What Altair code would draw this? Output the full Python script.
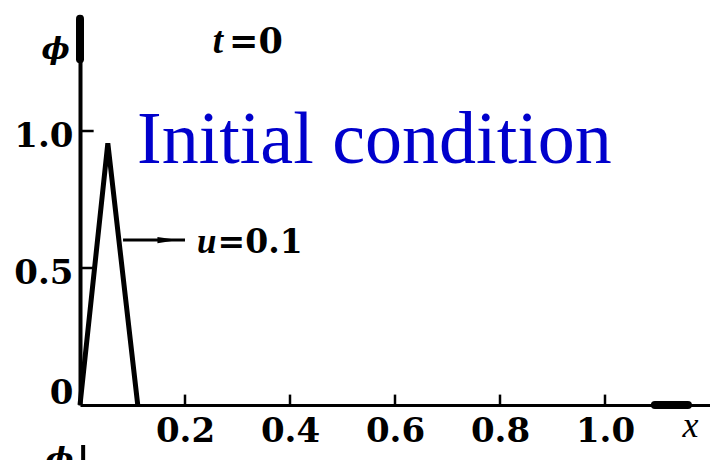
import altair as alt
import pandas as pd

# Triangular pulse phi(x) at t = 0
pulse_x = [0.0, 0.053, 0.11]
pulse_phi = [0.0, 0.955, 0.0]

# Axis ticks
x_tick_values = [0.2, 0.4, 0.6, 0.8, 1.0]
y_tick_values = [0.0, 0.5, 1.0]
y_tick_marks = [0.5, 1.0]

# Annotation text
main_note = "Initial condition"
time_note = ["t", "=0"]
speed_note = ["u", "=0.1"]
phi_symbol = "ϕ"

X_MAX = 1.2
Y_MAX = 1.4234
W, H = 630, 390
SERIF = "Liberation Serif"
NUM = "DejaVu Serif"

xs = alt.Scale(domain=[0, X_MAX], nice=False, zero=False)
ys = alt.Scale(domain=[0, Y_MAX], nice=False, zero=False)

x_axis = alt.Axis(
    values=x_tick_values, format=".1f", grid=False, ticks=False,
    domain=True, domainColor="black", domainWidth=3,
    labelFont=NUM, labelFontSize=34, labelFontWeight="bold", labelColor="black",
    labelPadding=9, labelFlush=False, labelOverlap=False,
    title="x", titleFont=SERIF, titleFontSize=36, titleFontStyle="italic",
    titleFontWeight="normal", titleColor="black",
    titleX=610, titleY=31, titleAlign="center", titleBaseline="alphabetic",
)
y_axis = alt.Axis(
    values=y_tick_values, grid=False, ticks=False,
    labelExpr="datum.value == 0 ? '0' : format(datum.value, '.1f')",
    domain=True, domainColor="black", domainWidth=4,
    labelFont=NUM, labelFontSize=34, labelFontWeight="bold", labelColor="black",
    labelPadding=7, labelBaseline="middle", labelFlush=False, labelOverlap=False,
    labelOffset={"condition": {"test": "datum.value == 0", "value": -12}, "value": 5},
    title=phi_symbol, titleFont=NUM, titleFontSize=30, titleFontStyle="italic",
    titleFontWeight="bold", titleColor="black", titleAngle=0,
    titleX=-25, titleY=34, titleAlign="center", titleBaseline="middle",
)


def xenc(field="x"):
    return alt.X(f"{field}:Q", scale=xs, axis=x_axis)


def yenc(field="y"):
    return alt.Y(f"{field}:Q", scale=ys, axis=y_axis)


pulse_df = pd.DataFrame({"x": pulse_x, "y": pulse_phi})
pulse = alt.Chart(pulse_df).mark_line(
    color="black", strokeWidth=5, strokeJoin="miter", strokeCap="butt"
).encode(x=xenc(), y=yenc())

# Short ticks pointing into the plot
tick_len_x = 0.038
tick_df = pd.DataFrame({
    "x": x_tick_values + [0.0] * len(y_tick_marks),
    "x2": x_tick_values + [0.026] * len(y_tick_marks),
    "y": [0.0] * len(x_tick_values) + y_tick_marks,
    "y2": [tick_len_x] * len(x_tick_values) + y_tick_marks,
})
ticks = alt.Chart(tick_df).mark_rule(color="black", strokeWidth=2.5).encode(
    x=xenc(), x2="x2:Q", y=yenc(), y2="y2:Q",
)

# Heavy arrow heads at the ends of both axes
heads_df = pd.DataFrame({
    "x": [1.095, 0.0], "x2": [1.158, 0.0],
    "y": [0.0, 1.262], "y2": [0.0, 1.41],
})
heads = alt.Chart(heads_df).mark_rule(
    color="black", strokeWidth=8, strokeCap="round"
).encode(x=xenc(), x2="x2:Q", y=yenc(), y2="y2:Q")

# Leader arrow pointing to the speed label
lead_df = pd.DataFrame({"x": [0.082], "x2": [0.2], "y": [0.602]})
lead = alt.Chart(lead_df).mark_rule(color="black", strokeWidth=3).encode(
    x=xenc(), x2="x2:Q", y=yenc(),
)
lhead_df = pd.DataFrame({"x": [0.167], "y": [0.602]})
lead_head = alt.Chart(lhead_df).mark_point(
    shape="M-1,-0.3L1,0L-1,0.3Z", filled=True, opacity=1, color="black", size=420
).encode(x=xenc(), y=yenc())


def label(text, x, y, size, style="normal", weight="normal", color="black", font=SERIF):
    df = pd.DataFrame({"x": [x], "y": [y], "t": [text]})
    return alt.Chart(df).mark_text(
        font=font, fontSize=size, fontStyle=style, fontWeight=weight, color=color,
        align="left", baseline="alphabetic",
    ).encode(x=xenc(), y=yenc(), text="t:N")


texts = [
    label(main_note, 0.1086, 0.883, 74, color="#0000CC"),
    label(time_note[0], 0.253, 1.285, 37, style="italic", weight="bold"),
    label(time_note[1], 0.284, 1.285, 35, weight="bold", font=NUM),
    label(speed_note[0], 0.223, 0.555, 35, style="italic", weight="bold"),
    label(speed_note[1], 0.262, 0.555, 33, weight="bold", font=NUM),
    # top of the next panel peeking in at the bottom edge
    label(phi_symbol, -0.066, -0.232, 30, style="italic", weight="bold", font=NUM),
]

next_axis_df = pd.DataFrame({"x": [0.006], "y": [-0.146], "y2": [-0.3]})
next_axis = alt.Chart(next_axis_df).mark_rule(color="black", strokeWidth=4).encode(
    x=xenc(), y=yenc(), y2="y2:Q",
)

chart = alt.layer(
    pulse, ticks, heads, lead, lead_head, next_axis, *texts
).properties(
    width=W, height=H,
    padding={"left": 80, "top": 15, "right": 0, "bottom": 55},
    autosize=alt.AutoSizeParams(type="none"),
    background="white",
).configure_view(stroke=None)

chart.save("out.html", embed_options={"renderer": "svg", "actions": False})
